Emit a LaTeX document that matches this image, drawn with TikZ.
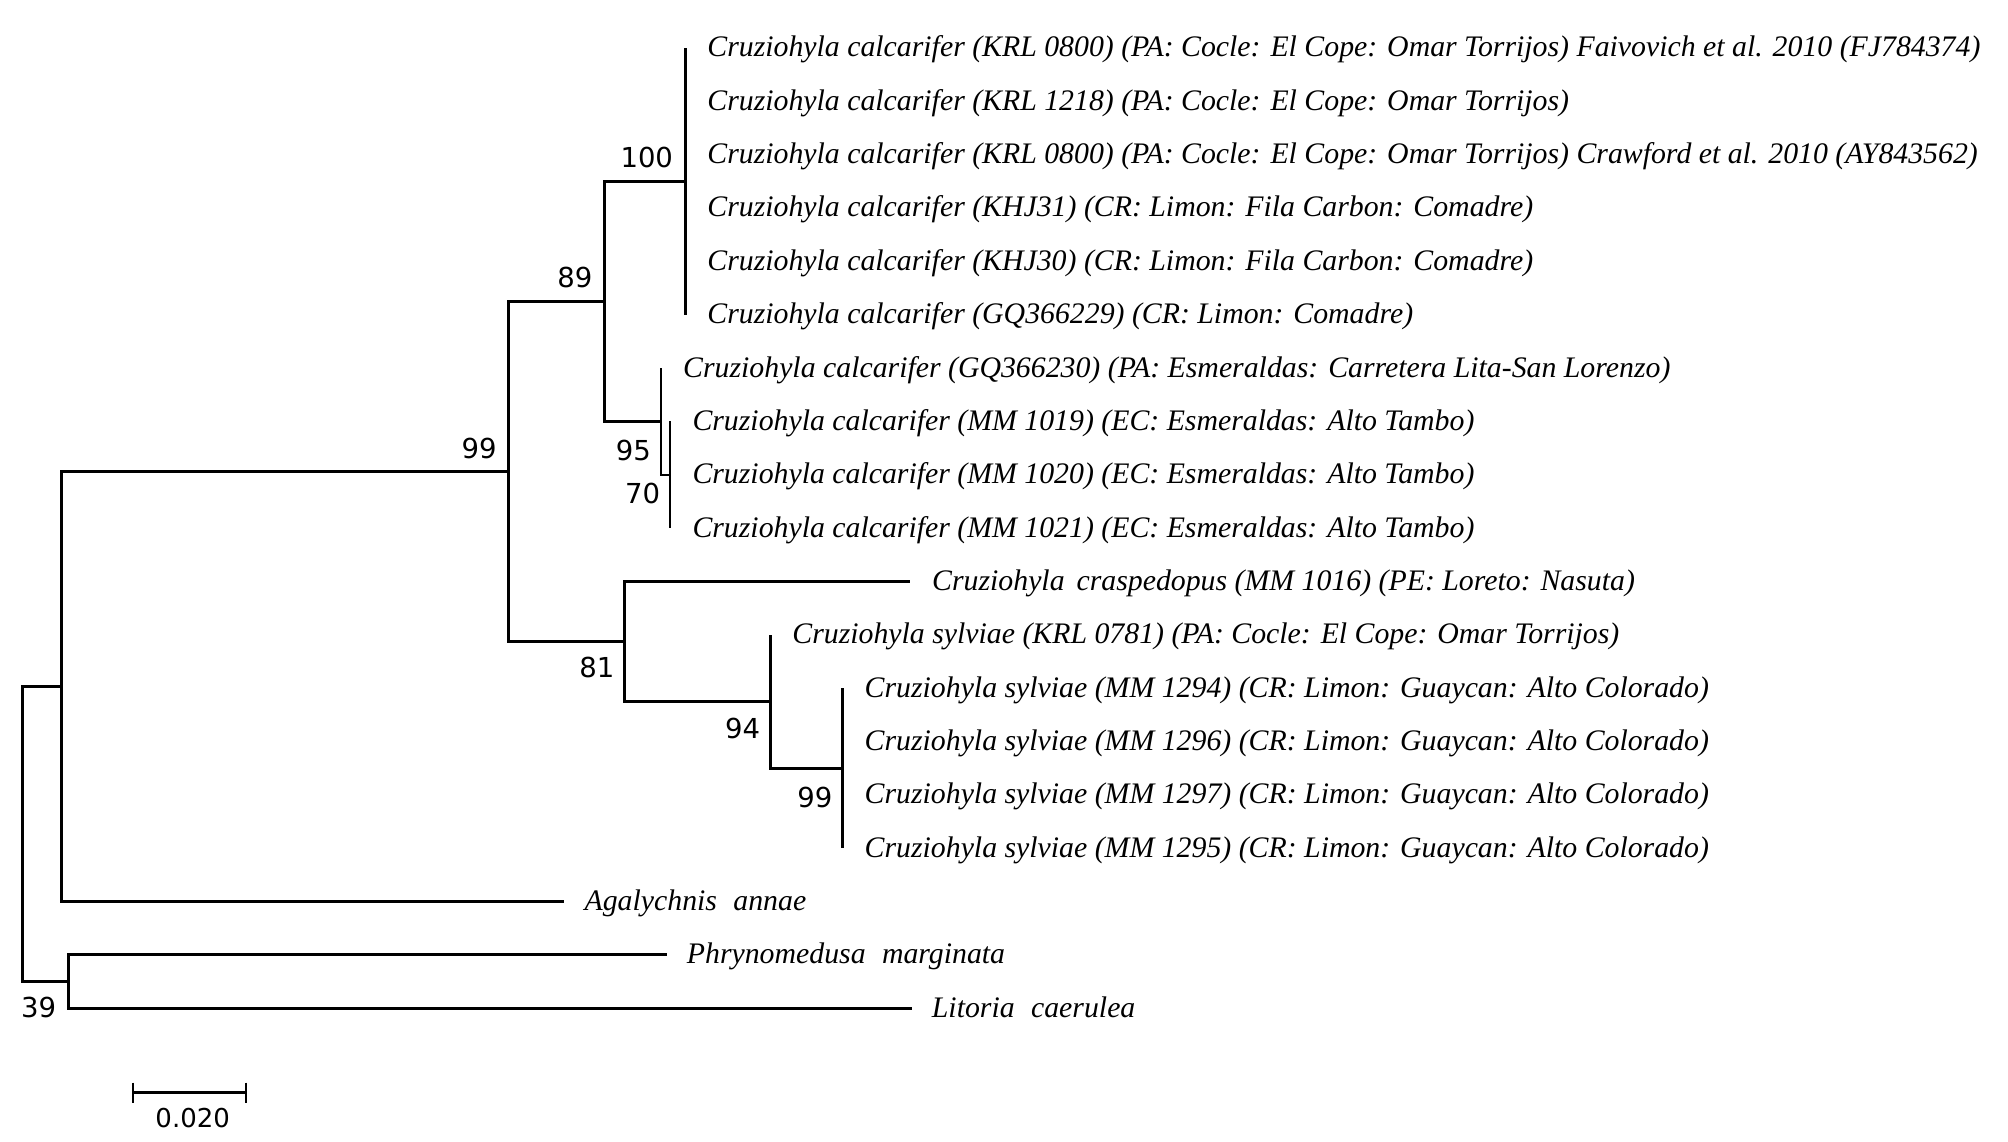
\documentclass[tikz,border=0pt]{standalone}
\usepackage{fontspec}
\setmainfont{Liberation Serif}
\newfontfamily\bootfont{DejaVu Sans}
\usetikzlibrary{positioning}

\begin{document}
\begin{tikzpicture}[x=1pt, y=-1pt,
  ramo/.style={line width=3pt},
  ramofino/.style={line width=2.2pt},
  folha/.style={anchor=base west, inner sep=0pt, font=\itshape\fontsize{29.8}{32}\selectfont},
  boot/.style={inner sep=0pt, font=\bootfont\fontsize{27.5}{30}\selectfont}]
% --- ARVORE FILOGENETICA (pixels, y para baixo) ---
\useasboundingbox (0,0) rectangle (2008,1142);

% LAYER 1: pontas dos ramos
\coordinate (t1) at (685.2,48);
\coordinate (t2) at (685.2,101.3);
\coordinate (t3) at (685.2,154.7);
\coordinate (t4) at (685.2,208);
\coordinate (t5) at (685.2,261.3);
\coordinate (t6) at (685.2,314.7);
\coordinate (t7) at (661,368);
\coordinate (t8) at (670.3,421.3);
\coordinate (t9) at (670.3,474.7);
\coordinate (t10) at (670.3,528);
\coordinate (t11) at (910,581.3);
\coordinate (t12) at (770.2,634.7);
\coordinate (t13) at (842.5,688);
\coordinate (t14) at (842.5,741.3);
\coordinate (t15) at (842.5,794.7);
\coordinate (t16) at (842.5,848);
\coordinate (t17) at (564.4,901.3);
\coordinate (t18) at (666.7,954.7);
\coordinate (t19) at (911.7,1008);

% LAYER 2: nos internos
\coordinate (n100) at (685.2,181.3);
\coordinate (n70) at (670.3,474.7);
\coordinate (n95) at (661,421.3);
\coordinate (n89) at (604.5,301.3);
\coordinate (n99b) at (842.5,768);
\coordinate (n94) at (770.2,701.3);
\coordinate (n81) at (624.6,641.3);
\coordinate (n99a) at (508.7,471.3);
\coordinate (nA) at (61.2,686.3);
\coordinate (n39) at (68.3,981.3);
\coordinate (raiz) at (22.7,833.8);

% LAYER 3: ramos
\draw[ramo] (raiz) |- (nA);
\draw[ramo] (raiz) |- (n39);
\draw[ramo] (nA) |- (n99a);
\draw[ramo] (nA) |- (t17);
\draw[ramo] (n39) |- (t18);
\draw[ramo] (n39) |- (t19);
\draw[ramo] (n99a) |- (n89);
\draw[ramo] (n99a) |- (n81);
\draw[ramo] (n89) |- (n100);
\draw[ramo] (n89) |- (n95);
\draw[ramo] (n100) |- (t1);
\draw[ramo] (n100) |- (t6);
\draw[ramofino] (n95) |- (t7);
\draw[ramofino] (n95) |- (n70);
\draw[ramofino] (n70) |- (t8);
\draw[ramofino] (n70) |- (t10);
\draw[ramo] (n81) |- (t11);
\draw[ramo] (n81) |- (n94);
\draw[ramo] (n94) |- (t12);
\draw[ramo] (n94) |- (n99b);
\draw[ramo] (n99b) |- (t13);
\draw[ramo] (n99b) |- (t16);

% LAYER 4: nomes dos taxa
\node[folha] (f1) at ([xshift=22pt, yshift=-9pt]t1) {Cruziohyla calcarifer (KRL 0800) (PA: Cocle: El Cope: Omar Torrijos) Faivovich et al. 2010 (FJ784374)};
\node[folha] (f2) at ([xshift=22pt, yshift=-9pt]t2) {Cruziohyla calcarifer (KRL 1218) (PA: Cocle: El Cope: Omar Torrijos)};
\node[folha] (f3) at ([xshift=22pt, yshift=-9pt]t3) {Cruziohyla calcarifer (KRL 0800) (PA: Cocle: El Cope: Omar Torrijos) Crawford et al. 2010 (AY843562)};
\node[folha] (f4) at ([xshift=22pt, yshift=-9pt]t4) {Cruziohyla calcarifer (KHJ31) (CR: Limon: Fila Carbon: Comadre)};
\node[folha] (f5) at ([xshift=22pt, yshift=-9pt]t5) {Cruziohyla calcarifer (KHJ30) (CR: Limon: Fila Carbon: Comadre)};
\node[folha] (f6) at ([xshift=22pt, yshift=-9pt]t6) {Cruziohyla calcarifer (GQ366229) (CR: Limon: Comadre)};
\node[folha] (f7) at ([xshift=22pt, yshift=-9pt]t7) {Cruziohyla calcarifer (GQ366230) (PA: Esmeraldas: Carretera Lita-San Lorenzo)};
\node[folha] (f8) at ([xshift=22pt, yshift=-9pt]t8) {Cruziohyla calcarifer (MM 1019) (EC: Esmeraldas: Alto Tambo)};
\node[folha] (f9) at ([xshift=22pt, yshift=-9pt]t9) {Cruziohyla calcarifer (MM 1020) (EC: Esmeraldas: Alto Tambo)};
\node[folha] (f10) at ([xshift=22pt, yshift=-9pt]t10) {Cruziohyla calcarifer (MM 1021) (EC: Esmeraldas: Alto Tambo)};
\node[folha] (f11) at ([xshift=22pt, yshift=-9pt]t11) {Cruziohyla\hspace{0.4em}craspedopus (MM 1016) (PE: Loreto: Nasuta)};
\node[folha] (f12) at ([xshift=22pt, yshift=-9pt]t12) {Cruziohyla sylviae (KRL 0781) (PA: Cocle: El Cope: Omar Torrijos)};
\node[folha] (f13) at ([xshift=22pt, yshift=-9pt]t13) {Cruziohyla sylviae (MM 1294) (CR: Limon: Guaycan: Alto Colorado)};
\node[folha] (f14) at ([xshift=22pt, yshift=-9pt]t14) {Cruziohyla sylviae (MM 1296) (CR: Limon: Guaycan: Alto Colorado)};
\node[folha] (f15) at ([xshift=22pt, yshift=-9pt]t15) {Cruziohyla sylviae (MM 1297) (CR: Limon: Guaycan: Alto Colorado)};
\node[folha] (f16) at ([xshift=22pt, yshift=-9pt]t16) {Cruziohyla sylviae (MM 1295) (CR: Limon: Guaycan: Alto Colorado)};
\node[folha] (f17) at ([xshift=20pt, yshift=-9pt]t17) {Agalychnis\hspace{0.55em}annae};
\node[folha] (f18) at ([xshift=20pt, yshift=-9pt]t18) {Phrynomedusa\hspace{0.55em}marginata};
\node[folha] (f19) at ([xshift=20pt, yshift=-9pt]t19) {Litoria\hspace{0.55em}caerulea};

% LAYER 5: valores de bootstrap
\node[boot, above left=13pt and 12pt of n100] (b100) {100};
\node[boot, above left=13pt and 12pt of n89] (b89) {89};
\node[boot, above left=12pt and 12pt of n99a] (b99a) {99};
\node[boot, below left=19pt and 10pt of n95] (b95) {95};
\node[boot, below left=8pt and 10pt of n70] (b70) {70};
\node[boot, below left=16pt and 10pt of n81] (b81) {81};
\node[boot, below left=16.5pt and 10pt of n94] (b94) {94};
\node[boot, below left=19pt and 10pt of n99b] (b99b) {99};
\node[boot, below left=16pt and 12pt of n39] (b39) {39};

% LAYER 6: barra de escala
\coordinate (e1) at (132.7,1092.7);
\coordinate (e2) at (245.7,1092.7);
\draw[ramo] (e1) -- (e2);
\draw[ramofino] ([yshift=10pt]e1) -- ([yshift=-10pt]e1);
\draw[ramofino] ([yshift=10pt]e2) -- ([yshift=-10pt]e2);
\node[boot, font=\bootfont\fontsize{26}{28}\selectfont, below=15pt of e1, xshift=60pt] (escala) {0.020};
\end{tikzpicture}
\end{document}
